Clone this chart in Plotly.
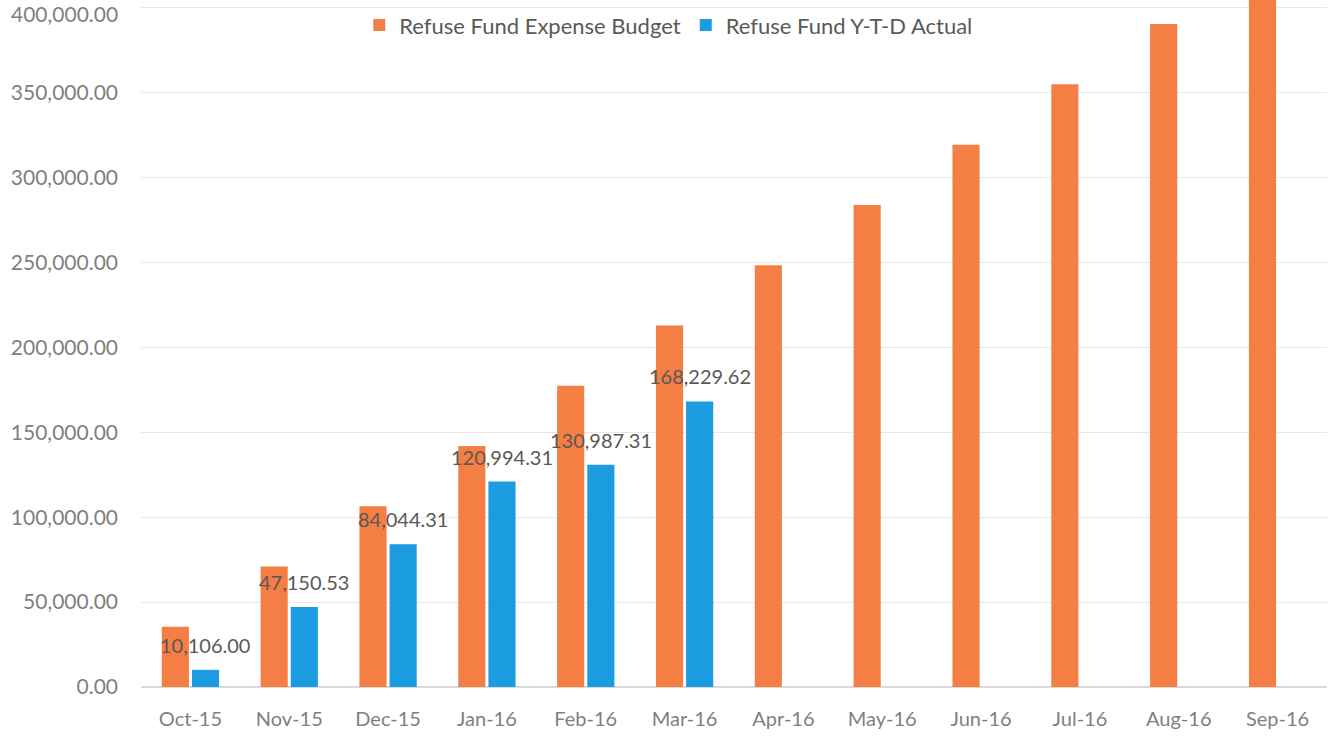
import plotly.graph_objects as go

months = ["Oct-15", "Nov-15", "Dec-15", "Jan-16", "Feb-16", "Mar-16",
          "Apr-16", "May-16", "Jun-16", "Jul-16", "Aug-16", "Sep-16"]
budget = [35500, 71000, 106500, 142000, 177500, 213000,
          248500, 284000, 319500, 355000, 390500, 426000]
actual_months = ["Oct-15", "Nov-15", "Dec-15", "Jan-16", "Feb-16", "Mar-16"]
actual = [10106.00, 47150.53, 84044.31, 120994.31, 130987.31, 168229.62]
y_ticks = [0, 50000, 100000, 150000, 200000, 250000, 300000, 350000, 400000]

ORANGE = "#F47E43"
BLUE = "#1B9BE0"
FONT = "Lato"

fig = go.Figure()
fig.add_trace(go.Bar(name="Refuse Fund Expense Budget", x=months, y=budget,
                     marker=dict(color=ORANGE, line=dict(width=0))))
fig.add_trace(go.Bar(name="Refuse Fund Y-T-D Actual", x=actual_months, y=actual,
                     marker=dict(color=BLUE, line=dict(width=0))))

for m, v in zip(actual_months, actual):
    fig.add_annotation(x=m, y=v, text=f"{v:,.2f}", showarrow=False,
                       xshift=15, yshift=25,
                       font=dict(family=FONT, size=20, color="#595959"))

# top tick label (plotly hides it at the very edge of the plot area)
fig.add_annotation(x=0, xref="paper", y=y_ticks[-1], yref="y",
                   text=f"{y_ticks[-1]:,.2f}", showarrow=False,
                   xanchor="right", xshift=-22, yshift=-6, borderpad=0,
                   font=dict(family=FONT, size=21, color="#7f7f7f"))

fig.update_layout(
    width=1335, height=736,
    margin=dict(l=141, r=8, t=0, b=49, autoexpand=False),
    paper_bgcolor="white", plot_bgcolor="white",
    barmode="group", bargap=0.39, bargroupgap=0.1,
    font=dict(family=FONT, size=20, color="#7f7f7f"),
    legend=dict(orientation="h", x=0.445, xanchor="center", y=0.994, yanchor="top",
                bgcolor="rgba(0,0,0,0)", font=dict(family=FONT, size=22, color="#595959"),
                itemsizing="constant"),
    xaxis=dict(categoryorder="array", categoryarray=months, showgrid=False,
               showline=False, ticks="", ticklabelstandoff=18, automargin=False,
               tickfont=dict(family=FONT, size=20, color="#7f7f7f")),
    yaxis=dict(range=[0, 404700], tickvals=y_ticks,
               ticktext=[f"{t:,.2f}" if t < y_ticks[-1] else "" for t in y_ticks],
               showgrid=True, gridcolor="#e8e8e8", gridwidth=1,
               zeroline=True, zerolinecolor="#d9d9d9", showline=False,
               ticks="", ticklabelstandoff=22, automargin=False,
               tickfont=dict(family=FONT, size=21, color="#7f7f7f")),
)

fig.write_html("out.html", config={"displayModeBar": False},
               post_script="document.body.style.margin='0';document.body.style.overflow='hidden';")
